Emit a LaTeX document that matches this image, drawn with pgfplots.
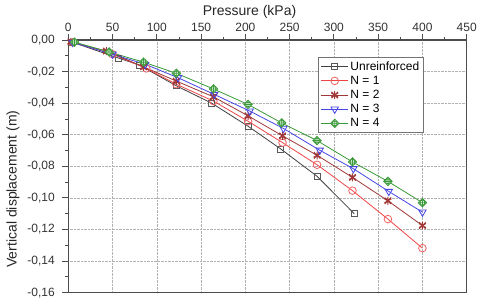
\documentclass[border=0pt]{standalone}
\usepackage{fontspec}
\setmainfont{Liberation Sans}
\usepackage{pgfplots}
\pgfplotsset{compat=1.18}
\definecolor{cblk}{HTML}{404040}
\definecolor{cred}{HTML}{EE4444}
\definecolor{cbrn}{HTML}{A03838}
\definecolor{cblu}{HTML}{4646E6}
\definecolor{cgrn}{HTML}{3A9A3A}
\pgfdeclareplotmark{dplus}{%
  \pgfpathmoveto{\pgfqpoint{0pt}{\pgfplotmarksize}}%
  \pgfpathlineto{\pgfqpoint{\pgfplotmarksize}{0pt}}%
  \pgfpathlineto{\pgfqpoint{0pt}{-\pgfplotmarksize}}%
  \pgfpathlineto{\pgfqpoint{-\pgfplotmarksize}{0pt}}%
  \pgfpathclose
  \pgfusepathqfillstroke
  \pgfpathcircle{\pgfpointorigin}{0.6\pgfplotmarksize}%
  \pgfpathmoveto{\pgfqpoint{0pt}{\pgfplotmarksize}}%
  \pgfpathlineto{\pgfqpoint{0pt}{-\pgfplotmarksize}}%
  \pgfpathmoveto{\pgfqpoint{\pgfplotmarksize}{0pt}}%
  \pgfpathlineto{\pgfqpoint{-\pgfplotmarksize}{0pt}}%
  \pgfusepathqstroke
}
\pgfdeclareplotmark{star8}{%
  \pgfpathmoveto{\pgfqpoint{0pt}{\pgfplotmarksize}}%
  \pgfpathlineto{\pgfqpoint{0pt}{-\pgfplotmarksize}}%
  \pgfpathmoveto{\pgfqpoint{0.866\pgfplotmarksize}{0.5\pgfplotmarksize}}%
  \pgfpathlineto{\pgfqpoint{-0.866\pgfplotmarksize}{-0.5\pgfplotmarksize}}%
  \pgfpathmoveto{\pgfqpoint{0.866\pgfplotmarksize}{-0.5\pgfplotmarksize}}%
  \pgfpathlineto{\pgfqpoint{-0.866\pgfplotmarksize}{0.5\pgfplotmarksize}}%
  \pgfpathmoveto{\pgfqpoint{0.8\pgfplotmarksize}{0.8\pgfplotmarksize}}%
  \pgfpathlineto{\pgfqpoint{-0.8\pgfplotmarksize}{-0.8\pgfplotmarksize}}%
  \pgfpathmoveto{\pgfqpoint{0.8\pgfplotmarksize}{-0.8\pgfplotmarksize}}%
  \pgfpathlineto{\pgfqpoint{-0.8\pgfplotmarksize}{0.8\pgfplotmarksize}}%
  \pgfusepathqstroke
}
\begin{document}
\begin{tikzpicture}
\begin{axis}[
  scale only axis, width=398.4pt, height=252.7pt,
  xmin=0, xmax=450, ymin=-0.16, ymax=0,
  xtick={0,50,100,150,200,250,300,350,400,450},
  ytick={-0.16,-0.14,-0.12,-0.10,-0.08,-0.06,-0.04,-0.02,0},
  minor x tick num=1, minor y tick num=1,
  xtick pos=right, ytick pos=left,
  xticklabel pos=right,
  tick align=outside,
  major tick length=6pt, minor tick length=3pt,
  grid=major, grid style={densely dotted, black!30, line width=0.6pt},
  axis line style={draw=black!70, line width=1.3pt},
  tick style={black!70, line width=0.9pt},
  ticklabel style={font=\fontsize{12}{14}\selectfont, text=black!80},
  /pgf/number format/assume math mode=true,
  y tick label style={xshift=-4pt, /pgf/number format/.cd, fixed, fixed zerofill, precision=2, use comma},
  x tick label style={yshift=-1pt},
  xlabel={Pressure (kPa)}, ylabel={Vertical displacement (m)},
  label style={font=\fontsize{14}{16}\selectfont, text=black!85},
  xlabel style={at={(axis description cs:0.455,1.095)}, anchor=base},
  ylabel style={at={(axis description cs:-0.1388,0.41)}, anchor=center},
  legend style={at={(rel axis cs:0.627,0.934)}, anchor=north west, draw=black!55, line width=0.7pt,
    font=\fontsize{12}{13}\selectfont, inner sep=2.5pt, row sep=0.3pt},
  legend image code/.code={\draw[mark repeat=2,mark phase=2,#1] plot coordinates {(0cm,0cm)(0.47cm,0cm)(0.94cm,0cm)};},
  legend cell align=left,
  every axis plot/.append style={line width=0.8pt},
]
\addplot[color=cblk, mark=square, mark size=3pt, mark options={fill=white, draw=black!65, solid}] coordinates {
(5,-0.0015) (57,-0.0115) (80,-0.0158) (122,-0.029) (162,-0.040) (203,-0.0546) (240,-0.069) (281,-0.0863) (323,-0.110)};
\addlegendentry{Unreinforced}
\addplot[color=cred, mark=o, mark size=3.8pt, mark options={fill=white, draw=cred!85, solid}] coordinates {
(5,-0.0015) (50,-0.009) (88,-0.018) (122,-0.028) (164,-0.0387) (203,-0.0514) (242,-0.065) (281,-0.079) (321,-0.0954) (361,-0.1134) (400,-0.1318)};
\addlegendentry{N = 1}
\addplot[color=cbrn, mark=star8, mark size=4pt, mark options={solid, line width=1pt}] coordinates {
(3,-0.0012) (43,-0.007) (85,-0.017) (122,-0.026) (164,-0.036) (203,-0.048) (242,-0.0607) (281,-0.073) (321,-0.087) (361,-0.1018) (400,-0.1175)};
\addlegendentry{N = 2}
\addplot[color=cblu, mark=triangle, mark size=4.2pt, mark options={fill=white, solid, rotate=180}] coordinates {
(5,-0.0015) (50,-0.009) (87,-0.0154) (124,-0.0239) (165,-0.0345) (205,-0.045) (243,-0.056) (284,-0.0698) (322,-0.0815) (362,-0.0959) (400,-0.109)};
\addlegendentry{N = 3}
\addplot[color=cgrn, mark=dplus, mark size=4.2pt, mark options={fill=white, solid}] coordinates {
(7,-0.0013) (46,-0.0076) (85,-0.014) (122,-0.0211) (164,-0.031) (203,-0.0408) (241,-0.0525) (281,-0.0637) (321,-0.0772) (361,-0.0895) (400,-0.103)};
\addlegendentry{N = 4}
\end{axis}
\pgfresetboundingbox
\useasboundingbox ([shift={(-68.3pt,-9.3pt)}]current axis.south west) rectangle ([shift={(13.3pt,40pt)}]current axis.north east);
\end{tikzpicture}
\end{document}
